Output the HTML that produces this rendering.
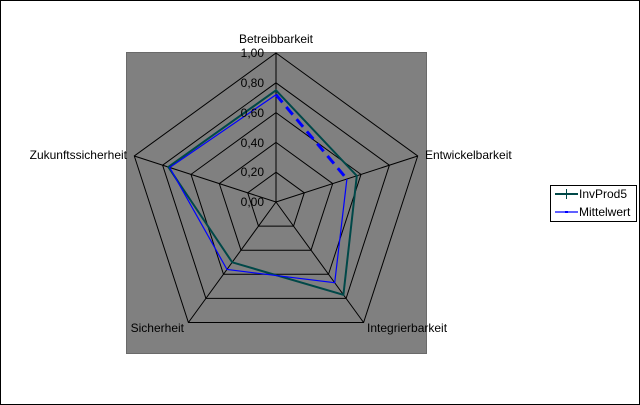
<!DOCTYPE html>
<html><head><meta charset="utf-8"><style>
html,body{margin:0;padding:0;background:#fff}
svg{display:block}
text{font-family:"Liberation Sans",Arial,sans-serif;font-size:12px;fill:#000}
</style></head><body>
<svg width="640" height="405" viewBox="0 0 640 405" xmlns="http://www.w3.org/2000/svg">
<rect x="0.5" y="0.5" width="639" height="404" fill="#fff" stroke="#000" stroke-width="1"/>
<rect x="126.5" y="52.5" width="300" height="301" fill="#808080" stroke="#6a6a6a" stroke-width="1"/>
<g fill="none" stroke="#000" stroke-width="1">
<polygon points="276,53 417.7,156 363.6,322.5 188.4,322.5 134.3,156"/>
<polygon points="276,82.8 389.4,165.2 346.1,298.4 205.9,298.4 162.6,165.2"/>
<polygon points="276,112.6 361,174.4 328.5,274.3 223.5,274.3 191,174.4"/>
<polygon points="276,142.4 332.7,183.6 311,250.2 241,250.2 219.3,183.6"/>
<polygon points="276,172.2 304.3,192.8 293.5,226.1 258.5,226.1 247.7,192.8"/>
<line x1="276" y1="202" x2="276" y2="53"/>
<line x1="276" y1="202" x2="417.7" y2="156"/>
<line x1="276" y1="202" x2="363.6" y2="322.5"/>
<line x1="276" y1="202" x2="188.4" y2="322.5"/>
<line x1="276" y1="202" x2="134.3" y2="156"/>
</g>
<polygon points="276,90.3 356.8,175.8 343.4,294.8 232.2,262.3 168.3,167" fill="none" stroke="#004848" stroke-width="2"/>
<polyline points="346.9,179 334.7,282.7 227,269.5 169.7,167.5 276,94.7" fill="none" stroke="#0000ff" stroke-width="1.2"/>
<line x1="276" y1="94.7" x2="346.9" y2="179" stroke="#0000ff" stroke-width="3" stroke-dasharray="10,6"/>
<g text-anchor="end">
<text x="264" y="57">1,00</text>
<text x="264" y="87">0,80</text>
<text x="264" y="117">0,60</text>
<text x="264" y="147">0,40</text>
<text x="264" y="176">0,20</text>
<text x="264" y="206">0,00</text>
</g>
<text x="276" y="43" text-anchor="middle">Betreibbarkeit</text>
<text x="425" y="159">Entwickelbarkeit</text>
<text x="127" y="159" text-anchor="end">Zukunftssicherheit</text>
<text x="184" y="332" text-anchor="end">Sicherheit</text>
<text x="367" y="332">Integrierbarkeit</text>
<rect x="550.5" y="185.5" width="86" height="36" fill="#fff" stroke="#000" stroke-width="1"/>
<line x1="555" y1="194" x2="578" y2="194" stroke="#004848" stroke-width="2"/>
<line x1="566.5" y1="189" x2="566.5" y2="199" stroke="#004848" stroke-width="1"/>
<text x="579" y="198">InvProd5</text>
<line x1="555" y1="212" x2="578" y2="212" stroke="#0000ff" stroke-width="1.2"/>
<rect x="565" y="211" width="3" height="2" fill="#0000ff"/>
<text x="579" y="216">Mittelwert</text>
</svg>
</body></html>
